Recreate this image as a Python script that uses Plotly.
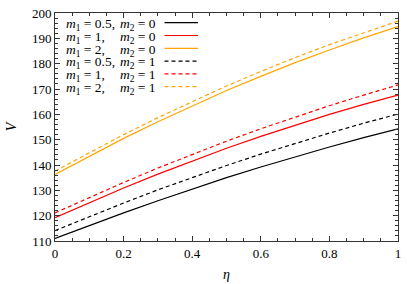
import plotly.graph_objects as go

eta = [0.0, 0.1, 0.2, 0.3, 0.4, 0.5, 0.6, 0.7, 0.8, 0.9, 1.0]

v_m05_0 = [111.0, 116.2, 121.1, 125.9, 130.5, 135.0, 139.2, 143.2, 147.1, 150.8, 154.3]
v_m1_0 = [119.2, 125.2, 130.9, 136.4, 141.6, 146.6, 151.3, 155.8, 160.0, 163.9, 167.6]
v_m2_0 = [136.3, 143.5, 150.5, 157.1, 163.4, 169.4, 175.0, 180.4, 185.4, 190.2, 194.6]
v_m05_1 = [114.1, 119.7, 125.0, 130.2, 135.1, 139.8, 144.3, 148.6, 152.6, 156.5, 160.1]
v_m1_1 = [121.1, 127.2, 133.1, 138.8, 144.2, 149.4, 154.3, 159.0, 163.4, 167.6, 171.6]
v_m2_1 = [137.6, 144.9, 152.0, 158.7, 165.1, 171.2, 176.9, 182.4, 187.5, 192.3, 196.8]

m1_labels = ["0.5", "1", "2", "0.5", "1", "2"]
m2_labels = ["0", "0", "0", "1", "1", "1"]
x_ticks = [0, 0.2, 0.4, 0.6, 0.8, 1]
x_tick_text = ["0", "0.2", "0.4", "0.6", "0.8", "1"]
series = [v_m05_0, v_m1_0, v_m2_0, v_m05_1, v_m1_1, v_m2_1]
colors = ["#000000", "#ff0000", "#ffa500", "#000000", "#ff0000", "#ffa500"]
dashes = ["solid", "solid", "solid", "dash", "dash", "dash"]

W, H = 407, 284
ML, MR, MT, MB = 55, 9, 13, 43
FONT = "Liberation Serif, Times New Roman, Tinos, DejaVu Serif, serif"

fig = go.Figure()
for ys, c, d, a, b in zip(series, colors, dashes, m1_labels, m2_labels):
    fig.add_trace(go.Scatter(
        x=eta, y=ys, mode="lines",
        line=dict(color=c, width=1.2, dash="4px,3px" if d == "dash" else "solid"),
        name=f"m1 = {a}, m2 = {b}", showlegend=False,
    ))

pw = W - ML - MR
ph = H - MT - MB

def px_x(p):
    return (p - ML) / pw

def px_y(p):
    return 1 - (p - MT) / ph

annotations = []
shapes = []
row0 = 24.5
step = 12.8
for i, (a, b, c, d) in enumerate(zip(m1_labels, m2_labels, colors, dashes)):
    yy = px_y(row0 + i * step)
    annotations.append(dict(
        x=px_x(65), y=yy, xref="paper", yref="paper", xanchor="left", yanchor="middle",
        text=f"<i>m</i><sub>1</sub> = {a},", showarrow=False, borderpad=0,
        font=dict(family=FONT, size=13.5, color="#000"),
    ))
    annotations.append(dict(
        x=px_x(119), y=yy, xref="paper", yref="paper", xanchor="left", yanchor="middle",
        text=f"<i>m</i><sub>2</sub> = {b}", showarrow=False, borderpad=0,
        font=dict(family=FONT, size=13.5, color="#000"),
    ))
    shapes.append(dict(
        type="line", xref="paper", yref="paper",
        x0=px_x(164.5), x1=px_x(198), y0=yy + 0.008, y1=yy + 0.008,
        line=dict(color=c, width=1.2, dash="4px,3px" if d == "dash" else "solid"),
    ))

axis_common = dict(
    showgrid=False, zeroline=False, showline=True, linecolor="#333", linewidth=1,
    mirror="ticks", ticks="inside", ticklen=5, tickcolor="#333", automargin=False,
    tickfont=dict(family=FONT, size=13, color="#000"),
)

fig.update_layout(
    width=W, height=H,
    margin=dict(l=ML, r=MR, t=MT, b=MB, autoexpand=False),
    plot_bgcolor="white", paper_bgcolor="white",
    showlegend=False,
    font=dict(family=FONT, size=13, color="#000"),
    xaxis=dict(range=[-0.0001, 1.0001], tickvals=x_ticks, ticktext=x_tick_text,
               minor=dict(dtick=0.05, ticks="inside", ticklen=3, tickcolor="#333"),
               title=dict(text="<i>η</i>", font=dict(family=FONT, size=14, color="#000"), standoff=9),
               **axis_common),
    yaxis=dict(range=[110, 200], dtick=10,
               minor=dict(dtick=2, ticks="inside", ticklen=3, tickcolor="#333"),
               title=dict(text="<i>V</i>", font=dict(family=FONT, size=14, color="#000"), standoff=12),
               **axis_common),
    annotations=annotations, shapes=shapes,
)

fig.write_html("out.html", config={"displayModeBar": False},
               post_script="document.body.style.margin='0';document.body.style.padding='0';")
